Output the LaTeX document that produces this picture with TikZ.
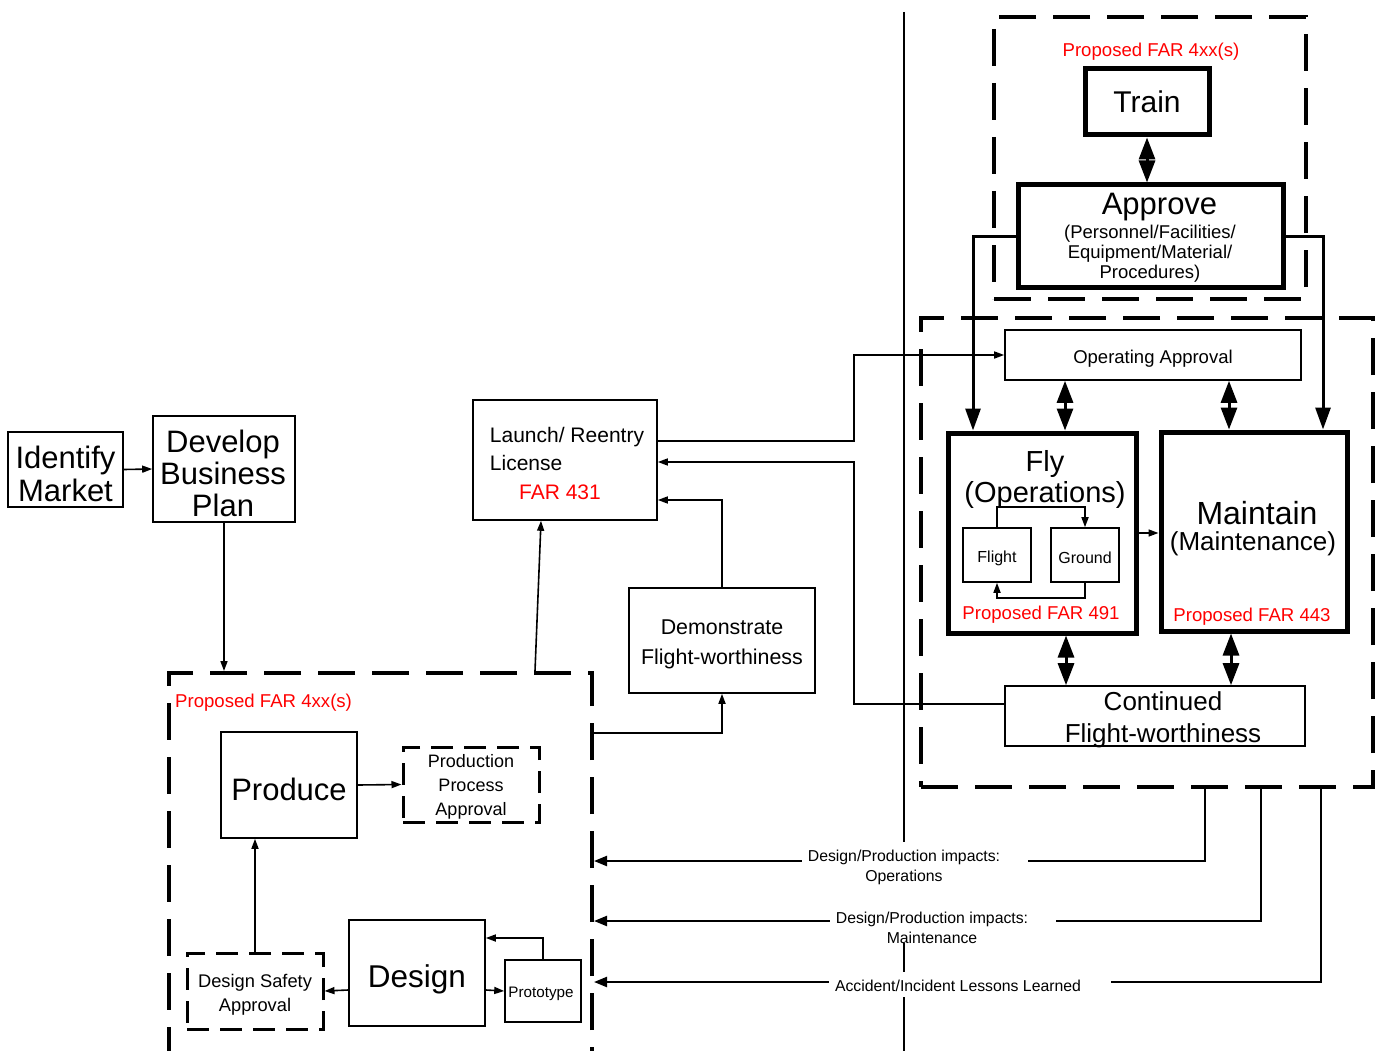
\documentclass[tikz,border=0pt]{standalone}
\usepackage{fontspec}
\setmainfont{Liberation Sans}
\usetikzlibrary{arrows.meta,calc}
\definecolor{farred}{RGB}{255,0,0}
\newcommand{\fsz}[2]{\fontsize{#1}{#2}\selectfont}
\newcommand{\padR}{\hspace*{22pt}}
\begin{document}
\begin{tikzpicture}[x=1pt,y=-1pt,
  thinbox/.style={draw, line width=1.6pt, inner sep=0pt},
  thickbox/.style={draw, line width=5pt, inner sep=0pt},
  bigdash/.style={draw, line width=4pt, dash pattern=on 37pt off 17pt, inner sep=0pt},
  smalldash/.style={draw, line width=3pt, dash pattern=on 22pt off 11pt, inner sep=0pt},
  txt/.style={inner sep=0pt},
  redtxt/.style={inner sep=0pt, text=farred, font=\fsz{18.6}{20}},
  fblabel/.style={fill=white, inner xsep=6pt, inner ysep=3pt, font=\fsz{15.8}{20}, align=center},
  thinarrow/.style={line width=1.6pt, -{Triangle[length=10pt,width=7pt]}},
  fbarrow/.style={line width=2.2pt, -{Triangle[length=13pt,width=10pt]}},
  heavyarrow/.style={line width=3pt, -{Triangle[length=22pt,width=15pt]}},
  dblarrow/.style={line width=3pt, {Triangle[length=22pt,width=16pt]}-{Triangle[length=22pt,width=16pt]}},
]
\clip (0,0) rectangle (1375,1051);
\fill[white] (0,0) rectangle (1375,1051);

% ---------- dashed regions ----------
\node[bigdash, minimum width=312pt, minimum height=282pt] (trb) at (1150,158) {};
\node[bigdash, minimum width=452pt, minimum height=469pt] (lrb) at (1147,552.5) {};
\node[bigdash, minimum width=423pt, minimum height=420pt] (llb) at (380.5,883) {};

% ---------- top right ----------
\node[redtxt] (farTop) at (1151,52) {Proposed FAR 4xx(s)};
\node[thickbox, minimum width=124pt, minimum height=66pt, font=\fsz{30}{32}] (train) at (1147,102) {Train};
\node[thickbox, minimum width=265pt, minimum height=102pt] (appr) at (1150.5,236) {};
\node[txt, font=\fsz{31}{33}] (apprT) at (1159.5,207) {Approve};
\node[txt, font=\fsz{18.5}{20}, align=center] (apprS) at (1150,254) {(Personnel/Facilities/\\Equipment/Material/\\Procedures)};

% ---------- lower right ----------
\node[thinbox, minimum width=296pt, minimum height=50pt] (oa) at (1153,355) {};
\node[txt, font=\fsz{18.5}{20}] (oaT) at (1153,358.5) {Operating Approval};

\node[thickbox, minimum width=188pt, minimum height=200pt] (fly) at (1042,533) {};
\node[txt, font=\fsz{29}{31}, align=center] (flyT) at (1045,479) {Fly\\(Operations)};
\node[thinbox, minimum width=68pt, minimum height=54pt] (flt) at (997,555) {};
\node[txt, font=\fsz{16}{18}] (fltT) at (997,558) {Flight};
\node[thinbox, minimum width=68pt, minimum height=54pt] (gnd) at (1085,555) {};
\node[txt, font=\fsz{16}{18}] (gndT) at (1085,558) {Ground};
\node[redtxt] (far491) at (1041,615) {Proposed FAR 491};

\node[thickbox, minimum width=186pt, minimum height=199pt] (mnt) at (1254,531.5) {};
\node[txt, font=\fsz{32}{34}] (mntT) at (1257,513) {Maintain};
\node[txt, font=\fsz{26}{28}] (mntS) at (1253,544) {(Maintenance)};
\node[redtxt] (far443) at (1252,617) {Proposed FAR 443};

\node[thinbox, minimum width=300pt, minimum height=60pt] (cf) at (1155,716) {};
\node[txt, font=\fsz{26}{32}, align=center] (cfT) at (1163,720) {Continued\\Flight-worthiness};

% ---------- middle ----------
\node[thinbox, minimum width=184pt, minimum height=120pt] (lic) at (565,460) {};
\node[txt, font=\fsz{21}{28.5}] (licT) at (567,465)
  {\begin{tabular}{@{}l@{}}Launch/ Reentry\\License\\\multicolumn{1}{@{}c@{}}{\color{farred}FAR 431\hspace*{14pt}}\end{tabular}};
\node[thinbox, minimum width=186pt, minimum height=105pt] (dem) at (722,640.5) {};
\node[txt, font=\fsz{21.4}{30}, align=center] (demT) at (722,644.5) {Demonstrate\\Flight-worthiness};

% ---------- left ----------
\node[thinbox, minimum width=115pt, minimum height=75pt] (idm) at (65.5,469.5) {};
\node[txt, font=\fsz{31}{33}, align=center] (idmT) at (65.5,473.5) {Identify\\Market};
\node[thinbox, minimum width=142pt, minimum height=106pt] (dev) at (224,469) {};
\node[txt, font=\fsz{31}{32}, align=center] (devT) at (223,473) {Develop\\Business\\Plan};

\node[redtxt, anchor=west] (farLL) at (175,703) {Proposed FAR 4xx(s)};
\node[thinbox, minimum width=136pt, minimum height=106pt] (prod) at (289,785) {};
\node[txt, font=\fsz{31}{33}] (prodT) at (289,789) {Produce};
\node[smalldash, minimum width=136pt, minimum height=75pt] (ppa) at (471,784.5) {};
\node[txt, font=\fsz{18}{24}, align=center] (ppaT) at (471,786.5) {Production\\Process\\Approval};
\node[thinbox, minimum width=136pt, minimum height=106pt] (des) at (417,973) {};
\node[txt, font=\fsz{31.5}{33}] (desT) at (417,979) {Design};
\node[smalldash, minimum width=136pt, minimum height=76pt] (dsa) at (255,991) {};
\node[txt, font=\fsz{18.3}{24}, align=center] (dsaT) at (255,995) {Design Safety\\Approval};
\node[thinbox, minimum width=76pt, minimum height=62pt] (proto) at (543,991) {};
\node[txt, font=\fsz{15.2}{18}] (protoT) at (541,994) {Prototype};

% ---------- helper x positions ----------
\coordinate (xl) at (973,0);
\coordinate (xr) at (1323,0);
\coordinate (xa) at (1065,0);
\coordinate (xb) at (1229,0);
\coordinate (xc) at (1066,0);
\coordinate (xd) at (1231,0);
\coordinate (f1) at (1205,0);
\coordinate (f2) at (1261,0);
\coordinate (f3) at (1321,0);

% ---------- connectors: right part ----------
\draw[dblarrow] (train.south) -- (train.south |- appr.north);
\draw[heavyarrow] (appr.west) -| (fly.north -| xl);
\draw[heavyarrow] (appr.east) -| (mnt.north -| xr);
\draw[dblarrow] (oa.south -| xa) -- (fly.north -| xa);
\draw[dblarrow] (oa.south -| xb) -- (mnt.north -| xb);
\draw[dblarrow] (fly.south -| xc) -- (cf.north -| xc);
\draw[dblarrow] (mnt.south -| xd) -- (cf.north -| xd);
\draw[thinarrow] (fly.east) -- (fly.east -| mnt.west);
\draw[thinarrow] (flt.north) -- ++(0,-20) -| (gnd.north);
\draw[thinarrow] (gnd.south) -- ++(0,15) -| (flt.south);

% ---------- connectors: middle ----------
\draw[thinarrow] ($(lic.east)+(0,-19)$) -- ++(196,0) |- (oa.west);
\draw[thinarrow] ($(cf.west)+(0,-12)$) -| ($(lic.east)+(196,2)$) -- ($(lic.east)+(0,2)$);
\draw[thinarrow] (dem.north) |- ($(lic.east)+(0,40)$);
\draw[thinarrow] ($(llb.north east)+(0,62)$) -| (dem.south);
\draw[thinarrow] ($(llb.north west)+(368,0)$) -- ($(lic.south)+(-24,0)$);

% ---------- connectors: left ----------
\draw[thinarrow] (idm.east) -- (dev.west);
\draw[thinarrow] (dev.south) -- (dev.south |- llb.north);
\draw[thinarrow] (prod.east) -- (ppa.west);
\draw[thinarrow] (dsa.north) -- (dsa.north |- prod.south);
\draw[thinarrow] ($(des.west)+(0,17)$) -- (dsa.east);
\draw[thinarrow] ($(des.east)+(0,17)$) -- (proto.west);
\draw[thinarrow] (proto.north) |- ($(des.east)+(0,-35)$);

% ---------- feedback lines ----------
\draw[fbarrow] (lrb.south -| f1) |- ($(llb.north east)+(0,190)$);
\draw[fbarrow] (lrb.south -| f2) |- ($(llb.north east)+(0,250)$);
\draw[fbarrow] (lrb.south -| f3) |- ($(llb.north east)+(0,311)$);
\node[fblabel] (lb1) at (915,867) {Design/Production impacts:\padR\\Operations\padR};
\node[fblabel] (lb2) at (943,928) {Design/Production impacts:\padR\\Maintenance\padR};
\node[fblabel] (lb3) at (970,986) {Accident/Incident Lessons Learned\hspace*{24pt}};

% ---------- vertical separator ----------
\draw[line width=1.6pt] (904,12) -- (904,842);
\draw[line width=1.6pt] (904,943) -- (904,972);
\draw[line width=1.6pt] (904,997) -- (904,1051);
\end{tikzpicture}
\end{document}
